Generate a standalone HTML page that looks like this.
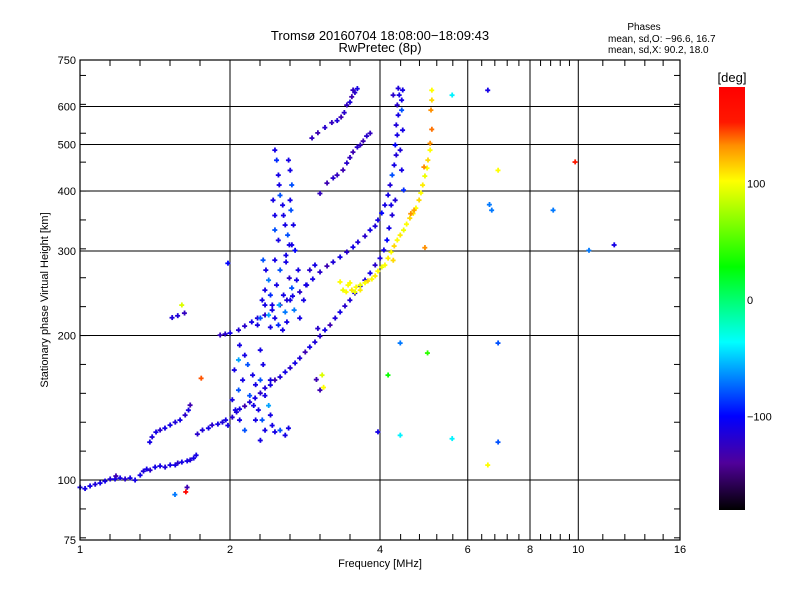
<!DOCTYPE html>
<html><head><meta charset="utf-8"><style>
body{margin:0;background:#fff;width:800px;height:600px;overflow:hidden}
svg{display:block;font-family:"Liberation Sans",sans-serif}
</style></head><body>
<svg id="chart" width="800" height="600" xmlns="http://www.w3.org/2000/svg">
<defs>
<linearGradient id="cbg" x1="0" y1="0" x2="0" y2="1">
<stop offset="0" stop-color="#ff0000"/><stop offset="0.083" stop-color="#ff1800"/>
<stop offset="0.139" stop-color="#ff9000"/><stop offset="0.222" stop-color="#ffff00"/>
<stop offset="0.425" stop-color="#00ff00"/><stop offset="0.603" stop-color="#00ffff"/>
<stop offset="0.778" stop-color="#0000ff"/><stop offset="0.889" stop-color="#50009a"/>
<stop offset="1" stop-color="#000000"/></linearGradient>
</defs>
<text x="380" y="40" font-size="13" text-anchor="middle">Tromsø 20160704 18:08:00−18:09:43</text>
<text x="380" y="52" font-size="13" text-anchor="middle">RwPretec (8p)</text>
<text x="644" y="30" font-size="10" text-anchor="middle">Phases</text>
<text x="608" y="42" font-size="10">mean, sd,O: −96.6, 16.7</text>
<text x="608" y="53" font-size="10">mean, sd,X:  90.2, 18.0</text>
<g id="grid"></g>
<g id="marks"></g>
<rect x="80" y="60" width="600" height="480" fill="none" stroke="#000" stroke-width="1.2"/>
<g id="axes"></g>
<text x="380" y="567" font-size="11" text-anchor="middle">Frequency [MHz]</text>
<text transform="translate(48,300) rotate(-90)" font-size="11" text-anchor="middle">Stationary phase Virtual Height [km]</text>
<rect x="719" y="87" width="26" height="423" fill="url(#cbg)"/>
<text x="732" y="82" font-size="13" text-anchor="middle">[deg]</text>
<g id="cbticks"></g>
</svg>
<script>
const xTickVals=[1,2,4,6,8,10,16];
const yTickVals=[75,100,200,300,400,500,600,750];
const xGridVals=[2,4,6,8,10];
const yGridVals=[100,200,300,400,500,600];
const cbTickVals=[100,0,-100];
const freq=[
1.0,1.023,1.047,1.072,1.097,1.122,1.149,1.175,1.203,1.231,1.26,1.289,1.32,1.34,1.36,1.382,1.414,1.447,1.481,1.516,1.552,1.57,1.6,1.64,1.663,1.69,1.71,1.18,
1.38,1.395,1.42,1.447,1.48,1.516,1.552,1.587,1.625,1.65,1.663,
1.72,1.76,1.81,1.84,1.89,1.93,1.96,2.02,2.06,2.09,2.14,2.19,2.245,2.3,2.35,2.41,2.46,2.52,2.58,2.64,2.70,2.76,2.83,2.89,2.96,3.03,3.10,3.175,3.25,3.325,3.40,3.48,3.56,3.65,3.73,3.82,3.91,4.0,4.07,4.13,4.17,4.23,
1.91,1.955,2.0,2.08,2.14,2.21,2.27,2.35,2.43,2.52,2.60,2.67,2.76,2.85,2.93,3.03,3.13,3.22,3.325,3.43,3.53,3.61,3.73,3.82,3.91,3.96,4.03,4.09,
4.15,4.19,4.23,4.27,4.31,4.29,4.33,4.31,4.35,4.33,4.37,4.35,4.44,4.42,4.44,4.39,4.42,4.46,4.21,4.29,4.25,4.42,
2.92,3.0,3.10,3.2,3.28,3.34,3.39,3.43,3.48,3.51,3.56,3.60,3.53,
3.03,3.13,3.22,3.28,3.37,3.43,3.48,3.53,3.60,3.65,3.70,3.76,3.82,
3.325,3.37,3.45,3.51,3.58,3.65,3.73,3.78,3.85,3.91,3.96,4.03,4.09,4.15,4.21,4.27,4.33,4.39,4.46,4.52,4.59,4.66,4.72,4.79,4.83,4.87,4.92,4.97,4.99,5.04,3.42,3.56,3.65,3.48,4.25,
4.61,4.68,5.04,5.08,5.06,5.08,5.08,4.90,
2.33,2.36,2.39,2.35,2.41,2.43,2.39,2.46,2.50,2.55,2.58,2.64,2.66,2.72,2.74,2.59,2.52,2.48,2.56,2.63,2.46,2.69,2.76,2.81,2.84,2.89,2.96,2.32,2.30,2.27,2.41,2.60,2.51,2.35,
2.46,2.48,2.50,2.51,2.52,2.55,2.56,2.58,2.61,2.63,2.59,2.50,2.46,2.46,2.44,2.62,2.64,2.66,2.64,2.65,2.68,2.66,2.70,
2.09,2.14,2.17,2.22,2.25,2.19,2.23,2.28,2.25,2.32,2.35,2.39,2.41,2.43,2.46,2.52,2.58,2.62,2.35,2.30,2.14,2.09,2.05,2.02,2.08,2.12,2.04,2.08,2.30,2.33,2.30,2.41,1.98,
3.0,2.98,3.03,3.06,3.08,1.53,1.57,1.62,1.6,1.75,1.63,1.64,1.55,
5.58,6.58,6.9,6.63,6.7,8.9,9.85,11.8,10.5,5.58,6.9,6.58,6.9,4.39,4.98,4.15,3.96,4.39,4.92,1.98];
const height=[
96.6,96,97.2,98,98.6,99.5,100.5,100.5,101,100.5,101,100,102.4,104.4,105.4,104.9,106.4,107,106.4,107.5,107.5,108.5,109,109.6,110.1,111.1,112.7,102,
120,123,125.9,127.1,128.3,130.2,132,133.4,136.6,139.9,143.3,
124.7,127.1,128.3,130.2,130.8,132,133.4,135.2,138.6,140.6,142.6,145.4,148.2,151.8,155.5,157.8,161.6,164,167.9,171.3,175.3,179.5,184.8,189.3,193.9,199.5,205.4,210.4,217.5,223.9,230.5,237.1,245.2,253.6,261,269.9,280.5,289.9,301.5,316.2,335,356.5,
200.5,201.5,202.5,205.4,209.4,213.5,217.5,220.7,226.1,231.6,237.1,241.8,246.6,254.9,262.3,271.3,279.2,284.6,291.5,298.6,305.8,313.2,322.3,331.8,338.2,348.1,360,374.1,
392.5,411.8,432,453.2,475.5,498.9,523.4,549.2,576,604.4,634.2,655,649.5,590,536,487,442.5,402,374,383,634,619,
516,529,542.6,555.6,560.9,570.5,583,604.4,612.9,629,642,654,649.5,
395.6,415.7,425.9,432,442.5,457.7,469.8,482.4,494,498.9,508.6,521,528,
258.8,248.8,254.9,248.8,252.4,254.9,257.6,260,262.3,266.3,272.5,277.8,280.5,289.9,298.6,307.4,316.2,323.9,331.8,341.4,351.4,359.4,368.7,383.2,396.5,411.8,430,446.7,464.2,487,246.6,246.6,248.8,257.6,287,
359,365,503,538,590,619,649,449,
287.3,273.9,261,248.8,242.9,231.6,220.7,217.5,210.4,205.4,223.9,237.1,251.3,261,273.9,284.6,273.9,254.9,242.9,263.6,287.3,226.1,217.5,237.1,254.9,273.9,280.5,237.1,217.5,210.4,208.2,213.5,231.6,231.6,
487,464,432,412,392,374,356,340,324,309,294,316,332,356,383,464,442,412,383,365,340,309,301,
191,182,174,165.5,158,150,143,140,133.4,133.4,150,143,136.6,130,126,127,124,128.3,127,121,127,133.4,140,147,154,161.6,169.6,178,186.6,174,161.6,161.6,130,
207,162,154,165.5,156,218,220,222.8,231.6,163,94.5,96.6,93.3,
634,649,442,375,365,365,460,309,301,122,120,107.5,193,193,184,165.5,126,124,305,283];
const phase=[
-110,-110,-110,-115,-110,-110,-115,-110,-110,-120,-110,-110,-110,-115,-110,-120,-110,-110,-115,-110,-110,-120,-110,-110,-115,-110,-110,-130,
-110,-115,-110,-120,-110,-110,-115,-110,-120,-110,-130,
-120,-115,-110,-120,-110,-115,-110,-120,-115,-110,-130,-115,-110,-120,-115,-110,-130,-115,-110,-120,-110,-115,-130,-110,-115,-120,-110,-130,-115,-110,-120,-115,-110,-120,-115,-110,-120,-115,-110,-100,-110,-115,
-125,-120,-110,-115,-120,-110,-115,-120,-110,-130,-115,-110,-120,-115,-110,-120,-130,-115,-110,-120,-110,-115,-120,-110,-115,-110,-100,-110,
-110,-115,-80,-110,-115,-100,-110,-115,-110,-120,-110,-115,-110,-80,-110,-115,-110,-90,-110,-115,-120,-110,
-125,-130,-120,-125,-115,-130,-120,-125,-115,-130,-120,-110,-125,
-125,-130,-120,-125,-130,-120,-125,-130,-120,-125,-130,-120,-125,
100,95,100,105,100,95,100,110,100,105,100,95,100,105,100,110,100,105,95,100,110,105,100,110,100,105,95,100,110,100,100,95,105,100,110,
130,125,130,135,130,110,100,130,
-80,-110,-70,-110,-90,-110,-60,-110,-90,-110,-70,-110,-80,-110,-110,-110,-80,-110,-110,-120,-110,-70,-110,-110,-110,-120,-110,-110,-80,-110,-110,-110,-60,-110,
-110,-90,-110,-110,-80,-110,-110,-110,-80,-110,-110,-110,-80,-110,-110,-110,-110,-80,-110,-80,-110,-110,-100,
-110,-110,-80,-110,-110,-80,-110,-110,-110,-80,-110,-60,-110,-110,-110,-80,-110,-110,-110,-110,-80,-110,-110,-110,-80,-110,-110,-60,-110,-110,-80,-110,-110,
-120,-130,-130,90,100,-115,-115,-125,90,140,170,-130,-70,
-40,-110,100,-70,-70,-70,150,-110,-70,-40,-80,100,-80,-70,40,30,-110,-40,130,-100];

const X0=80,X1=680,Y0=540,Y1=60;
function xScale(f){return X0+(X1-X0)*Math.log2(f)/Math.log2(16);}
function yScale(h){return Y0-(Y0-Y1)*Math.log10(h/75)/Math.log10(10);}
function cbScale(p){return 300-p*1.165;}
const cStops=[[180,[255,0,0]],[150,[255,24,0]],[130,[255,144,0]],[100,[255,255,0]],[27,[0,255,0]],[-37,[0,255,255]],[-100,[0,0,255]],[-140,[80,0,154]],[-180,[0,0,0]]];
function color(p){
  for(let i=0;i<cStops.length-1;i++){const a=cStops[i],b=cStops[i+1];
    if(p<=a[0]&&p>=b[0]){const t=(a[0]-p)/(a[0]-b[0]);
      return 'rgb('+a[1].map((v,k)=>Math.round(v+(b[1][k]-v)*t)).join(',')+')';}}
  return p>180?'rgb(255,0,0)':'rgb(0,0,0)';
}
const NS='http://www.w3.org/2000/svg';
function mk(tag,attrs,parent){const e=document.createElementNS(NS,tag);for(const k in attrs)e.setAttribute(k,attrs[k]);parent.appendChild(e);return e;}
const grid=document.getElementById('grid'),axes=document.getElementById('axes'),marks=document.getElementById('marks'),cbt=document.getElementById('cbticks');
xGridVals.forEach(v=>{const l=mk('line',{x1:xScale(v),x2:xScale(v),y1:Y1,y2:Y0,stroke:'#000','stroke-width':1},grid);

});
yGridVals.forEach(v=>{const l=mk('line',{x1:X0,x2:X1,y1:yScale(v),y2:yScale(v),stroke:'#000','stroke-width':1},grid);

});
const xMinor=[];
for(let k=1;k<5;k++){xMinor.push(Math.pow(2,k/5));xMinor.push(2*Math.pow(2,k/5));}
for(let k=1;k<5;k++){xMinor.push(4+0.4*k);xMinor.push(6+0.4*k);xMinor.push(8+0.4*k);xMinor.push(10+1.2*k);}
xMinor.forEach(v=>{const x=xScale(v);
mk('line',{x1:x,x2:x,y1:Y1,y2:Y1+6,stroke:'#000'},axes);
mk('line',{x1:x,x2:x,y1:Y0,y2:Y0-6,stroke:'#000'},axes);});
for(let k=-2;k<=14;k++){const v=100*Math.pow(2,k/5);if(v<75||v>750)continue;const y=yScale(v);
mk('line',{x1:X0,x2:X0+6,y1:y,y2:y,stroke:'#000'},axes);
mk('line',{x1:X1,x2:X1-6,y1:y,y2:y,stroke:'#000'},axes);}
yTickVals.forEach(v=>{const y=yScale(v);
mk('line',{x1:X0,x2:X0+10,y1:y,y2:y,stroke:'#000'},axes);
const t=mk('text',{x:76,y:y+4,'font-size':11,'text-anchor':'end'},axes);t.textContent=v;

});
xTickVals.forEach(v=>{const x=xScale(v);
const t=mk('text',{x:x,y:553,'font-size':11,'text-anchor':'middle'},axes);t.textContent=v;

});
cbTickVals.forEach(v=>{const y=cbScale(v);
const t=mk('text',{x:747,y:y+4,'font-size':11},cbt);t.textContent=(v<0?'−':'')+Math.abs(v);

});
for(let i=0;i<freq.length;i++){
  const x=xScale(freq[i]),y=yScale(height[i]),c=color(phase[i]);
  const g=mk('g',{fill:c},marks);
  
  
  mk('rect',{x:x-2.5,y:y-0.75,width:5,height:1.8},g);
  mk('rect',{x:x-0.75,y:y-2.5,width:1.8,height:5},g);
}
</script>
</body></html>
